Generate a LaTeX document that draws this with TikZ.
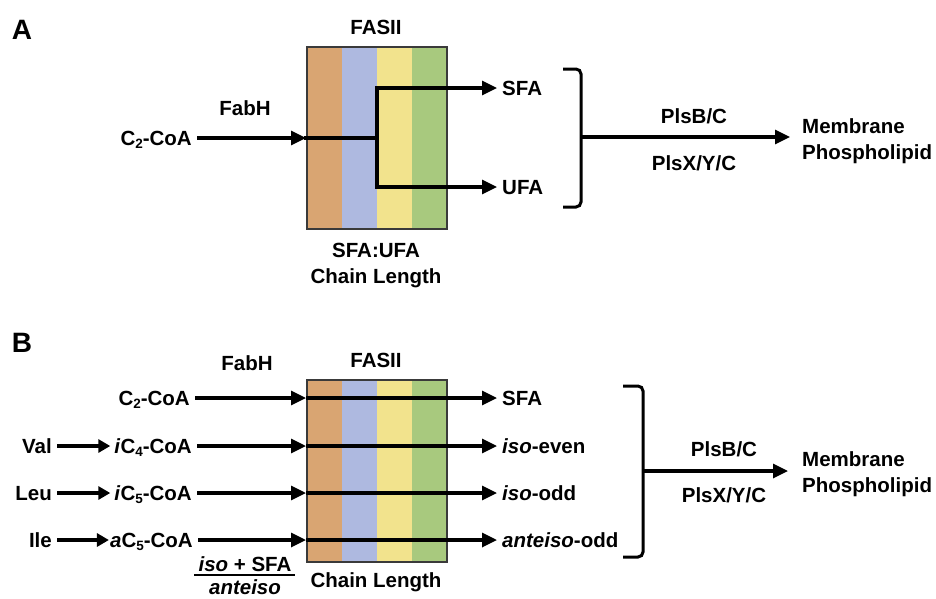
\documentclass[tikz,border=0pt]{standalone}
\usepackage{fontspec}
\setmainfont{Liberation Sans}
\usetikzlibrary{arrows.meta,calc}
\definecolor{cOr}{HTML}{D9A572}
\definecolor{cBl}{HTML}{AEB9E0}
\definecolor{cYe}{HTML}{F2E38D}
\definecolor{cGr}{HTML}{A8C97E}
\definecolor{cBox}{HTML}{3A3A3A}
\newcommand\lowidx[1]{\raisebox{-0.32ex}{\fontsize{13.5}{13.5}\selectfont #1}}
\begin{document}
\begin{tikzpicture}[x=1pt,y=-1pt,
  lbl/.style={font=\fontsize{20.5}{26}\selectfont\bfseries, inner sep=0pt, text height=14.5pt, text depth=0pt},
  mlbl/.style={font=\fontsize{20.5}{26}\selectfont\bfseries, inner sep=0pt},
  panel/.style={font=\fontsize{28}{28}\selectfont\bfseries, inner sep=0pt},
  arr/.style={line width=3.2pt, -{Triangle[length=15pt,width=14pt]}},
  sarr/.style={line width=3.2pt, -{Triangle[length=12pt,width=13pt]}},
  ln/.style={line width=3.2pt, line cap=rect},
  brk/.style={line width=3pt, rounded corners=5pt},
  fasbox/.style={draw=cBox, line width=2pt, minimum width=140pt, minimum height=182pt, inner sep=0pt,
    path picture={
      \fill[cOr] (path picture bounding box.north west) rectangle ([xshift=35pt]path picture bounding box.south west);
      \fill[cBl] ([xshift=35pt]path picture bounding box.north west) rectangle ([xshift=70pt]path picture bounding box.south west);
      \fill[cYe] ([xshift=70pt]path picture bounding box.north west) rectangle ([xshift=105pt]path picture bounding box.south west);
      \fill[cGr] ([xshift=105pt]path picture bounding box.north west) rectangle (path picture bounding box.south east);
    }},
]
\useasboundingbox (0,0) rectangle (936,598);

% ---------------- Panel A ----------------
\node[panel] (labA) at (22,30) {A};
\node[lbl] (fasA) at (376,27) {FASII};
\node[lbl] (fabhA) at (245,108) {FabH};
\node[fasbox] (boxA) at (377,138) {};
\node[lbl,anchor=east] (c2a) at (192,138) {C\lowidx{2}-CoA};
\node[lbl,anchor=west] (sfaA) at (502,88) {SFA};
\node[lbl,anchor=west] (ufaA) at (502,187) {UFA};
\node[mlbl,align=center] (chA) at (376,265.5) {SFA:UFA\\Chain Length};
\coordinate (jAt) at (377,88);
\coordinate (jAb) at (377,187);
\draw[arr] ([xshift=5pt]c2a.east) -- (boxA.west);
\draw[ln] (boxA.west) -- (boxA.center);
\draw[ln] (jAt) -- (jAb);
\draw[arr] (jAt) -- ([xshift=-5pt]sfaA.west);
\draw[arr] (jAb) -- ([xshift=-5pt]ufaA.west);
\coordinate (brAt) at (563,69);
\coordinate (brAb) at (563,207);
\coordinate (brAm) at (581,137);
\draw[brk] (brAt) -- (581,69) -- (581,207) -- (brAb);
\node[mlbl,align=left,anchor=west] (memA) at (802,141) {Membrane\\Phospholipid};
\draw[arr] (brAm) -- ([xshift=-12pt]memA.west |- brAm);
\node[lbl] (plsbA) at (694,116) {PlsB/C};
\node[lbl] (plsxA) at (694,163) {PlsX/Y/C};

% ---------------- Panel B ----------------
\node[panel] (labB) at (22,343) {B};
\node[lbl] (fasB) at (376,360) {FASII};
\node[lbl] (fabhB) at (247,363) {FabH};
\node[fasbox] (boxB) at (377,471) {};
\node[mlbl] (chB) at (376,582) {Chain Length};

\node[lbl,anchor=east] (c2b) at (190,398) {C\lowidx{2}-CoA};
\node[lbl,anchor=east] (ic4) at (192,446) {\textit{i}C\lowidx{4}-CoA};
\node[lbl,anchor=east] (ic5) at (192,493) {\textit{i}C\lowidx{5}-CoA};
\node[lbl,anchor=east] (ac5) at (193,540) {\textit{a}C\lowidx{5}-CoA};
\node[lbl,anchor=east] (val) at (52,446) {Val};
\node[lbl,anchor=east] (leu) at (52,493) {Leu};
\node[lbl,anchor=east] (ile) at (52,540) {Ile};

\node[lbl,anchor=west] (sfaB) at (502,398) {SFA};
\node[lbl,anchor=west] (isoe) at (502,446) {\textit{iso}-even};
\node[lbl,anchor=west] (isoo) at (502,493) {\textit{iso}-odd};
\node[lbl,anchor=west] (anto) at (502,540) {\textit{anteiso}-odd};

\draw[sarr] ([xshift=5pt]val.east) -- ([xshift=-4pt]ic4.west);
\draw[sarr] ([xshift=5pt]leu.east) -- ([xshift=-4pt]ic5.west);
\draw[sarr] ([xshift=5pt]ile.east) -- ([xshift=-1pt]ac5.west);

\foreach \s/\t in {c2b/sfaB, ic4/isoe, ic5/isoo, ac5/anto}{
  \draw[arr] ([xshift=5pt]\s.east) -- (boxB.west |- \s);
  \draw[arr] (boxB.west |- \s) -- ([xshift=-5pt]\t.west);
}

\coordinate (brBt) at (623,386);
\coordinate (brBb) at (623,557);
\coordinate (brBm) at (643,471);
\draw[brk] (brBt) -- (643,386) -- (643,557) -- (brBb);
\node[mlbl,align=left,anchor=west] (memB) at (802,474) {Membrane\\Phospholipid};
\draw[arr] (brBm) -- ([xshift=-14pt]memB.west |- brBm);
\node[lbl] (plsbB) at (724,449) {PlsB/C};
\node[lbl] (plsxB) at (724,495) {PlsX/Y/C};

\node[lbl] (fnum) at (245,564) {\textit{iso} + SFA};
\node[lbl] (fden) at (245,587) {\textit{anteiso}};
\coordinate (flL) at (194,575);
\coordinate (flR) at (295,575);
\draw[line width=2.6pt] (flL) -- (flR);
\end{tikzpicture}
\end{document}
